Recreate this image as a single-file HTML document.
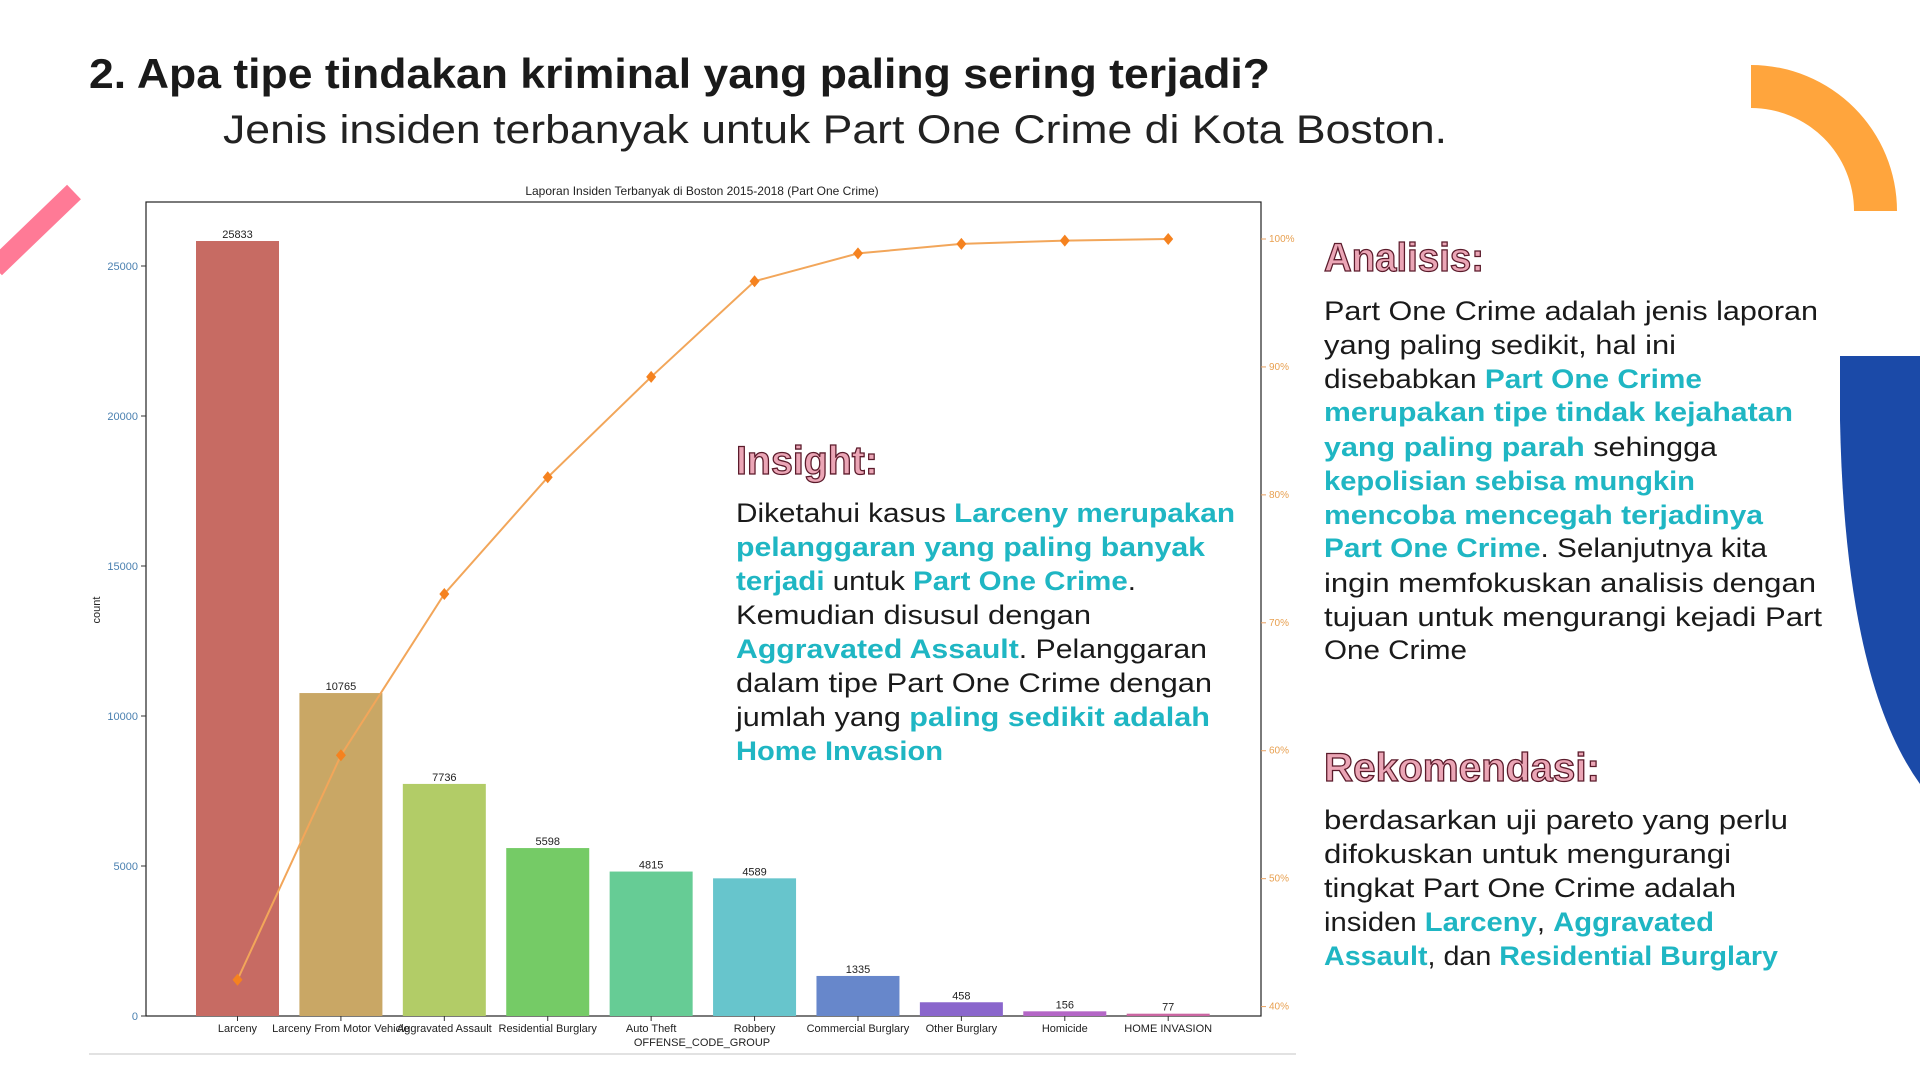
<!DOCTYPE html>
<html><head><meta charset="utf-8"><style>
html,body{margin:0;padding:0;background:#fff;width:1920px;height:1080px;overflow:hidden}
svg{display:block}
.t{font-family:"Liberation Sans",sans-serif}
.c{fill:#1fb6c3;font-weight:bold}
.b{fill:#1a1a1a;font-weight:normal}
.h{fill:#eba6b6;stroke:#5b1b2b;stroke-width:1.3px;font-weight:bold;font-size:40px}
</style></head><body>
<svg id="root" width="1920" height="1080" viewBox="0 0 1920 1080">
  <!-- decorations -->
  <line x1="-5" y1="268" x2="74" y2="192" stroke="#ff7a96" stroke-width="20"/>
  <path d="M1751 65 A146 146 0 0 1 1897 211 L1854 211 A103 103 0 0 0 1751 108 Z" fill="#ffa53d"/>
  <path d="M1920 356 L1840 356 L1840 420 Q1845 680 1920 784 Z" fill="#1b4aa8"/>
  <line x1="89" y1="1054" x2="1296" y2="1054" stroke="#e2e2e2" stroke-width="2"/>

  <!-- titles -->
  <text class="t" x="89" y="88" font-size="42" font-weight="bold" fill="#1a1a1a" textLength="1181" lengthAdjust="spacingAndGlyphs">2. Apa tipe tindakan kriminal yang paling sering terjadi?</text>
  <text class="t" x="223" y="143" font-size="40" fill="#222" textLength="1224" lengthAdjust="spacingAndGlyphs">Jenis insiden terbanyak untuk Part One Crime di Kota Boston.</text>

  <!-- chart -->
  <g id="chart"></g>

  <!-- insight -->
  <g class="t" font-size="27">
    <text class="h" x="736" y="474" textLength="142" lengthAdjust="spacingAndGlyphs">Insight:</text>
    <text x="736" y="522" textLength="499" lengthAdjust="spacingAndGlyphs"><tspan class="b">Diketahui kasus </tspan><tspan class="c">Larceny merupakan</tspan></text>
    <text x="736" y="556" textLength="469" lengthAdjust="spacingAndGlyphs"><tspan class="c">pelanggaran yang paling banyak</tspan></text>
    <text x="736" y="590" textLength="400" lengthAdjust="spacingAndGlyphs"><tspan class="c">terjadi</tspan><tspan class="b"> untuk </tspan><tspan class="c">Part One Crime</tspan><tspan class="b">.</tspan></text>
    <text x="736" y="624" textLength="355" lengthAdjust="spacingAndGlyphs"><tspan class="b">Kemudian disusul dengan</tspan></text>
    <text x="736" y="658" textLength="471" lengthAdjust="spacingAndGlyphs"><tspan class="c">Aggravated Assault</tspan><tspan class="b">.  Pelanggaran</tspan></text>
    <text x="736" y="692" textLength="476" lengthAdjust="spacingAndGlyphs"><tspan class="b">dalam tipe Part One Crime dengan</tspan></text>
    <text x="736" y="726" textLength="474" lengthAdjust="spacingAndGlyphs"><tspan class="b">jumlah yang </tspan><tspan class="c">paling sedikit adalah</tspan></text>
    <text x="736" y="760" textLength="207" lengthAdjust="spacingAndGlyphs"><tspan class="c">Home Invasion</tspan></text>
  </g>

  <!-- analisis -->
  <g class="t" font-size="27">
    <text class="h" x="1324" y="271" textLength="160" lengthAdjust="spacingAndGlyphs">Analisis:</text>
    <text x="1324" y="320" textLength="494" lengthAdjust="spacingAndGlyphs"><tspan class="b">Part One Crime adalah jenis laporan</tspan></text>
    <text x="1324" y="354" textLength="352" lengthAdjust="spacingAndGlyphs"><tspan class="b">yang paling sedikit, hal ini</tspan></text>
    <text x="1324" y="388" textLength="378" lengthAdjust="spacingAndGlyphs"><tspan class="b">disebabkan </tspan><tspan class="c">Part One Crime</tspan></text>
    <text x="1324" y="421" textLength="469" lengthAdjust="spacingAndGlyphs"><tspan class="c">merupakan tipe tindak kejahatan</tspan></text>
    <text x="1324" y="456" textLength="393" lengthAdjust="spacingAndGlyphs"><tspan class="c">yang paling parah</tspan><tspan class="b"> sehingga</tspan></text>
    <text x="1324" y="490" textLength="371" lengthAdjust="spacingAndGlyphs"><tspan class="c">kepolisian sebisa mungkin</tspan></text>
    <text x="1324" y="524" textLength="439" lengthAdjust="spacingAndGlyphs"><tspan class="c">mencoba mencegah terjadinya</tspan></text>
    <text x="1324" y="557" textLength="443" lengthAdjust="spacingAndGlyphs"><tspan class="c">Part One Crime</tspan><tspan class="b">. Selanjutnya kita</tspan></text>
    <text x="1324" y="592" textLength="492" lengthAdjust="spacingAndGlyphs"><tspan class="b">ingin memfokuskan analisis dengan</tspan></text>
    <text x="1324" y="626" textLength="498" lengthAdjust="spacingAndGlyphs"><tspan class="b">tujuan untuk mengurangi kejadi Part</tspan></text>
    <text x="1324" y="659" textLength="143" lengthAdjust="spacingAndGlyphs"><tspan class="b">One Crime</tspan></text>
  </g>

  <!-- rekomendasi -->
  <g class="t" font-size="27">
    <text class="h" x="1324" y="781" textLength="276" lengthAdjust="spacingAndGlyphs">Rekomendasi:</text>
    <text x="1324" y="829" textLength="464" lengthAdjust="spacingAndGlyphs"><tspan class="b">berdasarkan uji pareto yang perlu</tspan></text>
    <text x="1324" y="863" textLength="407" lengthAdjust="spacingAndGlyphs"><tspan class="b">difokuskan untuk mengurangi</tspan></text>
    <text x="1324" y="897" textLength="412" lengthAdjust="spacingAndGlyphs"><tspan class="b">tingkat Part One Crime adalah</tspan></text>
    <text x="1324" y="931" textLength="390" lengthAdjust="spacingAndGlyphs"><tspan class="b">insiden </tspan><tspan class="c">Larceny</tspan><tspan class="b">, </tspan><tspan class="c">Aggravated</tspan></text>
    <text x="1324" y="965" textLength="454" lengthAdjust="spacingAndGlyphs"><tspan class="c">Assault</tspan><tspan class="b">, dan </tspan><tspan class="c">Residential Burglary</tspan></text>
  </g>
</svg>
<script>
const categories = ["Larceny","Larceny From Motor Vehicle","Aggravated Assault","Residential Burglary","Auto Theft","Robbery","Commercial Burglary","Other Burglary","Homicide","HOME INVASION"];
const counts = [25833,10765,7736,5598,4815,4589,1335,458,156,77];
const barColors = ["#c76b63","#c9a765","#b2cc67","#75cb66","#66cc95","#67c5cc","#6787cb","#8a66cc","#b467c6","#cb66a2"];
const leftTicks = [0,5000,10000,15000,20000,25000];
const rightTicks = [40,50,60,70,80,90,100];

const NS = "http://www.w3.org/2000/svg";
const g = document.getElementById("chart");
const L = 146, R = 1261, T = 202, B = 1016;
const yL = v => 1016 - v * (750 / 25000);
const yR = p => 1006.6 - (p - 40) * (767.6 / 60);
const step = (1168.2 - 237.5) / 9;
const xC = i => 237.5 + i * step;
const bw = 83;

function el(tag, attrs, parent) {
  const e = document.createElementNS(NS, tag);
  for (const k in attrs) e.setAttribute(k, attrs[k]);
  (parent || g).appendChild(e);
  return e;
}
function txt(s, attrs) {
  const e = el("text", Object.assign({"font-family": "Liberation Sans, sans-serif"}, attrs));
  e.textContent = s;
  return e;
}

const frame = el("rect", {x: L, y: T, width: R - L, height: B - T, fill: "none", stroke: "#222", "stroke-width": 1.2});



const title = txt("Laporan Insiden Terbanyak di Boston 2015-2018 (Part One Crime)", {x: 702, y: 195, "font-size": 12, "text-anchor": "middle", fill: "#222"});



leftTicks.forEach(v => {
  const y = yL(v);
  el("line", {x1: L - 5, y1: y, x2: L, y2: y, stroke: "#333"});
  const t = txt(String(v), {x: L - 8, y: y + 4, "font-size": 11, "text-anchor": "end", fill: "#4a80b0"});
  
  
});
rightTicks.forEach(p => {
  const y = yR(p);
  el("line", {x1: R, y1: y, x2: R + 5, y2: y, stroke: "#e8a060"});
  const t = txt(p + "%", {x: R + 8, y: y + 3, "font-size": 10, fill: "#e8a050"});
  
  
});
const yt = txt("count", {x: 0, y: 0, "font-size": 11, "text-anchor": "middle", fill: "#222", transform: "translate(100,610) rotate(-90)"});


const xt = txt("OFFENSE_CODE_GROUP", {x: 702, y: 1046, "font-size": 11, "text-anchor": "middle", fill: "#222"});



counts.forEach((v, i) => {
  const x = xC(i);
  const r = el("rect", {x: x - bw / 2, y: yL(v), width: bw, height: B - yL(v), fill: barColors[i]});
  
  
  const lbl = txt(String(v), {x: x, y: yL(v) - 3, "font-size": 11, "text-anchor": "middle", fill: "#222"});
  
  
  el("line", {x1: x, y1: B, x2: x, y2: B + 5, stroke: "#333"});
  const cl = txt(categories[i], {x: x, y: 1032, "font-size": 11, "text-anchor": "middle", fill: "#222"});
  
  
});

const total = counts.reduce((a, b) => a + b, 0);
let acc = 0;
const cum = counts.map(v => (acc += v) / total * 100);
const pts = cum.map((p, i) => xC(i) + "," + yR(p)).join(" ");
const line = el("polyline", {points: pts, fill: "none", stroke: "#f2a65a", "stroke-width": 2});


cum.forEach((p, i) => {
  const x = xC(i), y = yR(p);
  const m = el("polygon", {points: `${x},${y-6} ${x+5},${y} ${x},${y+6} ${x-5},${y}`, fill: "#f5821f"});
  
  
});
</script>
</body></html>
